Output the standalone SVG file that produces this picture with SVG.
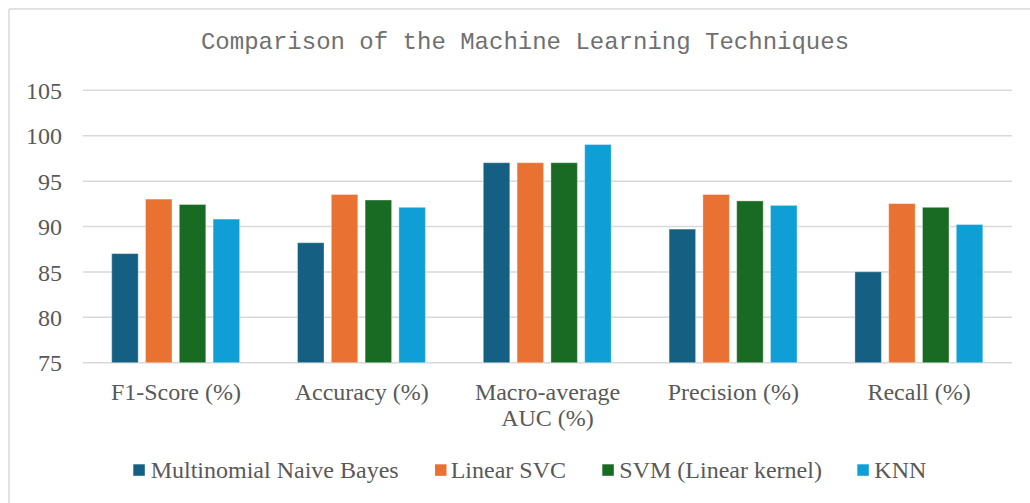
<svg xmlns="http://www.w3.org/2000/svg" width="1030" height="503" viewBox="0 0 1030 503">
<style>
.grid{stroke:#d9d9d9;stroke-width:1.5;fill:none}
.frame{stroke:#d9d9d9;stroke-width:1.5;fill:none}
.t{font-family:"Liberation Serif","Times New Roman",serif;font-size:24px;fill:#595959}
.title{font-family:"Liberation Mono","Courier New",monospace;font-size:24px;fill:#707070}
.ax{text-anchor:end}
.cat{text-anchor:middle}
.s1{fill:#156082}
.s2{fill:#e97132}
.s3{fill:#196b24}
.s4{fill:#0f9ed5}
.bar{stroke:#ffffff;stroke-opacity:0.35;stroke-width:1}
</style>
<rect x="0" y="0" width="1030" height="503" fill="#ffffff"/>
<g id="frame">
<line class="frame" x1="9" y1="9" x2="1030" y2="9"/>
<line class="frame" x1="9" y1="9" x2="9" y2="503"/>
</g>
<g id="title">
<text class="title" x="525" y="49" text-anchor="middle">Comparison of the Machine Learning Techniques</text>
</g>
<g id="gridlines">
<line class="grid" x1="83" y1="90.3" x2="1012" y2="90.3"/>
<line class="grid" x1="83" y1="135.7" x2="1012" y2="135.7"/>
<line class="grid" x1="83" y1="181.2" x2="1012" y2="181.2"/>
<line class="grid" x1="83" y1="226.6" x2="1012" y2="226.6"/>
<line class="grid" x1="83" y1="272" x2="1012" y2="272"/>
<line class="grid" x1="83" y1="317.3" x2="1012" y2="317.3"/>
<line class="grid" x1="83" y1="362.7" x2="1012" y2="362.7"/>
</g>
<g id="y-axis">
<text class="t ax" x="62" y="99">105</text>
<text class="t ax" x="62" y="144.4">100</text>
<text class="t ax" x="62" y="189.9">95</text>
<text class="t ax" x="62" y="235.3">90</text>
<text class="t ax" x="62" y="280.7">85</text>
<text class="t ax" x="62" y="326">80</text>
<text class="t ax" x="62" y="371.4">75</text>
</g>
<g id="series-mnb">
<rect class="bar s1" x="111.7" y="253.6" width="26.5" height="109.1"/>
<rect class="bar s1" x="297.5" y="242.7" width="26.5" height="120"/>
<rect class="bar s1" x="483.3" y="162.7" width="26.5" height="200"/>
<rect class="bar s1" x="669.1" y="229.1" width="26.5" height="133.6"/>
<rect class="bar s1" x="854.9" y="271.8" width="26.5" height="90.9"/>
</g>
<g id="series-linear-svc">
<rect class="bar s2" x="145.5" y="199.1" width="26.5" height="163.6"/>
<rect class="bar s2" x="331.3" y="194.5" width="26.5" height="168.2"/>
<rect class="bar s2" x="517.1" y="162.7" width="26.5" height="200"/>
<rect class="bar s2" x="702.9" y="194.5" width="26.5" height="168.2"/>
<rect class="bar s2" x="888.7" y="203.6" width="26.5" height="159.1"/>
</g>
<g id="series-svm">
<rect class="bar s3" x="179.3" y="204.5" width="26.5" height="158.2"/>
<rect class="bar s3" x="365.1" y="200" width="26.5" height="162.7"/>
<rect class="bar s3" x="550.9" y="162.7" width="26.5" height="200"/>
<rect class="bar s3" x="736.7" y="200.9" width="26.5" height="161.8"/>
<rect class="bar s3" x="922.5" y="207.3" width="26.5" height="155.4"/>
</g>
<g id="series-knn">
<rect class="bar s4" x="213.1" y="219.1" width="26.5" height="143.6"/>
<rect class="bar s4" x="398.9" y="207.3" width="26.5" height="155.4"/>
<rect class="bar s4" x="584.7" y="144.5" width="26.5" height="218.2"/>
<rect class="bar s4" x="770.5" y="205.4" width="26.5" height="157.3"/>
<rect class="bar s4" x="956.3" y="224.5" width="26.5" height="138.2"/>
</g>
<g id="x-axis">
<text class="t cat" x="175.9" y="400">F1-Score (%)</text>
<text class="t cat" x="361.7" y="400">Accuracy (%)</text>
<text class="t cat" x="547.5" y="400">Macro-average</text>
<text class="t cat" x="547.5" y="426">AUC (%)</text>
<text class="t cat" x="733.3" y="400">Precision (%)</text>
<text class="t cat" x="919.1" y="400">Recall (%)</text>
</g>
<g id="legend">
<rect class="s1" x="133.3" y="464.3" width="11.5" height="11.5"/>
<text class="t" x="150.7" y="478">Multinomial Naive Bayes</text>
<rect class="s2" x="435" y="464.3" width="11.5" height="11.5"/>
<text class="t" x="450.7" y="478">Linear SVC</text>
<rect class="s3" x="602.3" y="464.3" width="11.5" height="11.5"/>
<text class="t" x="619.3" y="478">SVM (Linear kernel)</text>
<rect class="s4" x="857.3" y="464.3" width="11.5" height="11.5"/>
<text class="t" x="874.3" y="478">KNN</text>
</g>
</svg>
